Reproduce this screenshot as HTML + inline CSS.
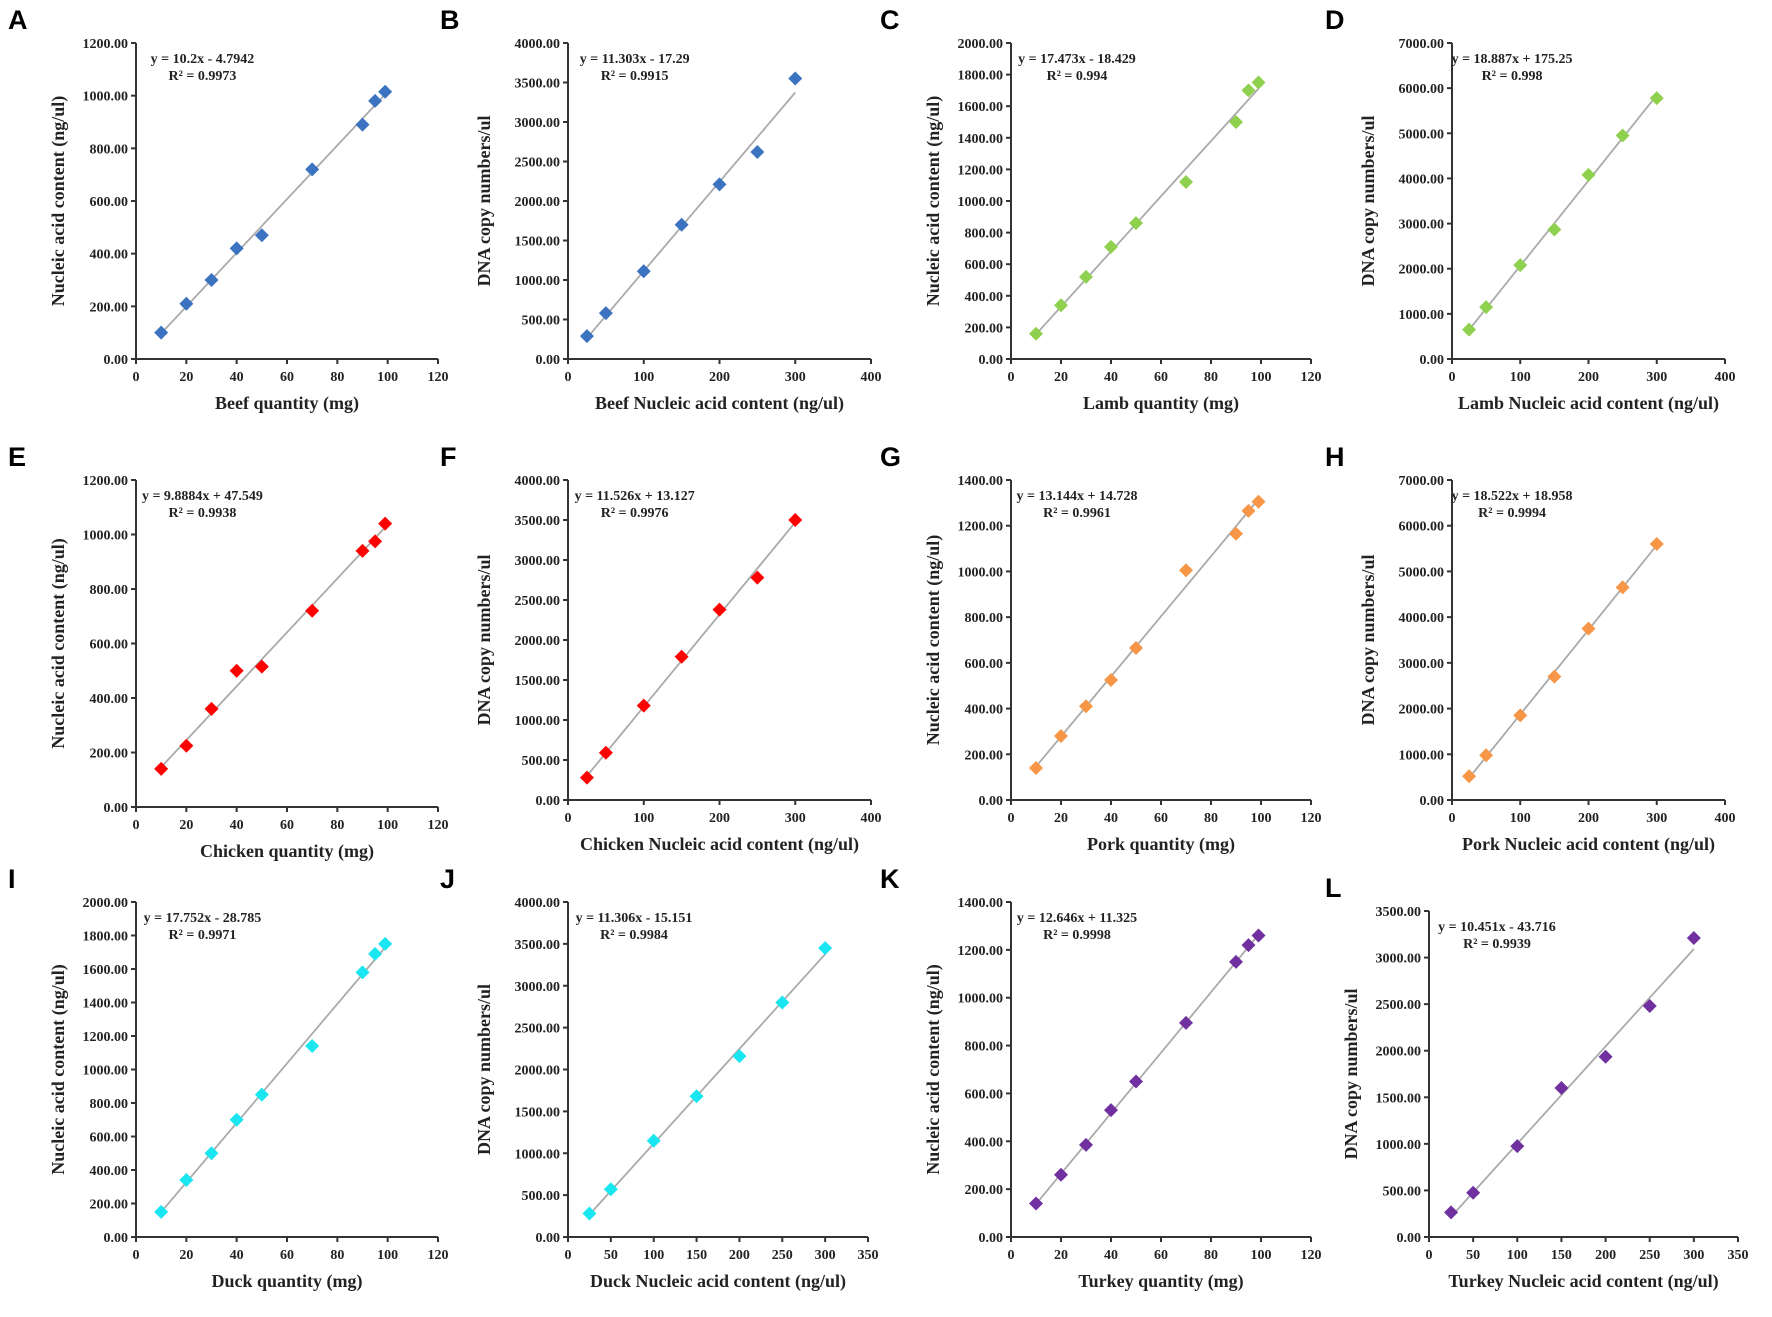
<!DOCTYPE html>
<html><head><meta charset="utf-8">
<style>
html,body{margin:0;padding:0;background:#fff;}
svg{display:block;}
text{font-family:"Liberation Serif",serif;font-weight:bold;fill:#222;}
.lbl{font-family:"Liberation Sans",sans-serif;font-size:27px;fill:#000;}
</style></head>
<body>
<svg id="fig" width="1772" height="1317" viewBox="0 0 1772 1317"></svg>
<script>
const qtyX = [10,20,30,40,50,70,90,95,99];
const concX = [25,50,100,150,200,250,300];
const valsA = [100,210,300,420,470,720,890,980,1015];
const valsB = [290,580,1110,1700,2210,2620,3550];
const valsC = [160,340,520,710,860,1120,1500,1700,1750];
const valsD = [650,1150,2080,2870,4080,4950,5780];
const valsE = [140,225,360,500,515,720,940,975,1040];
const valsF = [280,590,1180,1790,2380,2780,3500];
const valsG = [140,280,410,525,665,1005,1165,1265,1305];
const valsH = [520,980,1850,2700,3750,4650,5600];
const valsI = [150,340,500,700,850,1140,1580,1690,1750];
const valsJ = [280,570,1150,1680,2160,2800,3450];
const valsK = [140,260,385,530,650,895,1150,1220,1260];
const valsL = [265,475,975,1600,1935,2480,3210];
const slopes = [10.2,11.303,17.473,18.887,9.8884,11.526,13.144,18.522,17.752,11.306,12.646,10.451];
const intercepts = [-4.7942,-17.29,-18.429,175.25,47.549,13.127,14.728,18.958,-28.785,-15.151,11.325,-43.716];
const eqLabels = ["y = 10.2x - 4.7942","y = 11.303x - 17.29","y = 17.473x - 18.429","y = 18.887x + 175.25","y = 9.8884x + 47.549","y = 11.526x + 13.127","y = 13.144x + 14.728","y = 18.522x + 18.958","y = 17.752x - 28.785","y = 11.306x - 15.151","y = 12.646x + 11.325","y = 10.451x - 43.716"];
const r2Labels = ["R² = 0.9973","R² = 0.9915","R² = 0.994","R² = 0.998","R² = 0.9938","R² = 0.9976","R² = 0.9961","R² = 0.9994","R² = 0.9971","R² = 0.9984","R² = 0.9998","R² = 0.9939"];
const xTitles = ["Beef quantity (mg)","Beef Nucleic acid content (ng/ul)","Lamb quantity (mg)","Lamb Nucleic acid content (ng/ul)","Chicken quantity (mg)","Chicken Nucleic acid content (ng/ul)","Pork quantity (mg)","Pork Nucleic acid content (ng/ul)","Duck quantity (mg)","Duck Nucleic acid content (ng/ul)","Turkey quantity (mg)","Turkey Nucleic acid content (ng/ul)"];
const letters = ["A","B","C","D","E","F","G","H","I","J","K","L"];
const yMaxes = [1200,4000,2000,7000,1200,4000,1400,7000,2000,4000,1400,3500];
const yStepsArr = [200,500,200,1000,200,500,200,1000,200,500,200,500];
const xMaxes = [120,400,120,400,120,400,120,400,120,350,120,350];
const xStepsArr = [20,100,20,100,20,100,20,100,20,50,20,50];

const series=[valsA,valsB,valsC,valsD,valsE,valsF,valsG,valsH,valsI,valsJ,valsK,valsL];
const colors=["#3b73c0","#3b73c0","#8fd14f","#8fd14f","#ff0000","#ff0000","#f79646","#f79646","#19e6f0","#19e6f0","#7030a0","#7030a0"];
const boxes=[
 [136,43,302,316],[568,43,303,316],[1011,43,300,316],[1452,43,273,316],
 [136,480,302,327],[568,480,303,320],[1011,480,300,320],[1452,480,273,320],
 [136,902,302,335],[568,902,300,335],[1011,902,300,335],[1429,911,309,326]];
const NS="http://www.w3.org/2000/svg";
const svg=document.getElementById('fig');
function mk(tag,attrs,parent){const e=document.createElementNS(NS,tag);for(const k in attrs)e.setAttribute(k,attrs[k]);(parent||svg).appendChild(e);return e;}
for(let i=0;i<12;i++){
  const [x0,y0,w,h]=boxes[i];
  const g=mk('g',{});
  
  
  const xs=(v)=>x0+v/xMaxes[i]*w;
  const ys=(v)=>y0+h-v/yMaxes[i]*h;
  const xd=(i%2===0)?qtyX:concX;
  const col=i%4;
  const lx=[8,440,880,1325][col];
  const t=mk('text',{x:lx,y:y0-14,class:'lbl'},g);t.textContent=letters[i];
  
  const ya=mk('line',{x1:x0,y1:y0,x2:x0,y2:y0+h,stroke:'#333','stroke-width':2},g);
  
  const xa=mk('line',{x1:x0,y1:y0+h,x2:x0+w,y2:y0+h,stroke:'#333','stroke-width':2},g);
  
  for(let v=0;v<=yMaxes[i]+1e-9;v+=yStepsArr[i]){
    mk('line',{x1:x0-5,y1:ys(v),x2:x0,y2:ys(v),stroke:'#333','stroke-width':2},g);
    const tl=mk('text',{x:x0-8,y:ys(v)+5,'text-anchor':'end','font-size':14},g);tl.textContent=v.toFixed(2);
    
  }
  for(let v=0;v<=xMaxes[i]+1e-9;v+=xStepsArr[i]){
    mk('line',{x1:xs(v),y1:y0+h,x2:xs(v),y2:y0+h+5,stroke:'#333','stroke-width':2},g);
    const tl=mk('text',{x:xs(v),y:y0+h+22,'text-anchor':'middle','font-size':14},g);tl.textContent=v;
    
  }
  const xt=mk('text',{x:x0+w/2,y:y0+h+50,'text-anchor':'middle','font-size':18},g);xt.textContent=xTitles[i];
  
  const yl=(i%2===0)?"Nucleic acid content (ng/ul)":"DNA copy numbers/ul";
  const ytx=x0-(yMaxes[i]>=1000&&yMaxes[i]%1000===0&&i%2===1?78:72);
  const yt=mk('text',{x:ytx,y:y0+h/2,'text-anchor':'middle','font-size':18,transform:`rotate(-90 ${ytx} ${y0+h/2})`},g);yt.textContent=yl;
  
  const a=xd[0],b=xd[xd.length-1];
  const tr=mk('line',{x1:xs(a),y1:ys(slopes[i]*a+intercepts[i]),x2:xs(b),y2:ys(slopes[i]*b+intercepts[i]),stroke:'#aaa','stroke-width':1.8},g);
  
  series[i].forEach((v,k)=>{
    const cx=xs(xd[k]),cy=ys(v),r=7;
    const p=mk('polygon',{points:`${cx},${cy-r} ${cx+r},${cy} ${cx},${cy+r} ${cx-r},${cy}`,fill:colors[i]},g);
    
  });
  const e1=mk('text',{x:x0+w*0.22,y:y0+20,'text-anchor':'middle','font-size':14},g);e1.textContent=eqLabels[i];
  
  const e2=mk('text',{x:x0+w*0.22,y:y0+37,'text-anchor':'middle','font-size':14},g);e2.textContent=r2Labels[i];
  
}
</script>
</body></html>
